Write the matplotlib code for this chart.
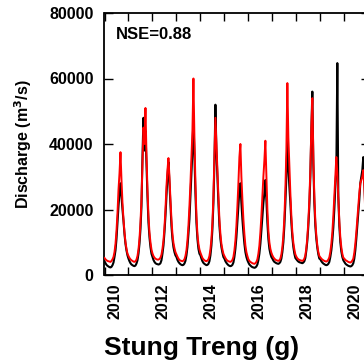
import matplotlib
matplotlib.use("Agg")
import matplotlib.pyplot as plt
import numpy as np

plt.rcParams['font.family'] = ['Liberation Sans', 'DejaVu Sans']
plt.rcParams['font.weight'] = 'bold'

# half-monthly discharge (m3/s): 1st and 16th of each month
# 2010 .. 2020, 24 values per year
observed = [
    4200, 3600, 3100, 2800, 2600, 2400, 2300, 2500, 3000, 3800, 5500, 7500,
    11000, 16000, 21000, 25000, 28000, 24000, 20000, 16500, 12500, 9500, 7500, 6000,   # 2010
    5000, 4200, 3600, 3200, 3000, 2800, 2700, 2900, 3500, 4500, 6500, 9500,
    14000, 21000, 36000, 48000, 38000, 44000, 34000, 24000, 16000, 11500, 8500, 6500,  # 2011
    5500, 4600, 4000, 3600, 3400, 3300, 3200, 3300, 3600, 4500, 6500, 9000,
    13000, 18000, 24000, 30000, 34500, 28000, 21000, 15000, 11000, 8500, 7000, 6000,   # 2012
    5500, 4600, 4000, 3600, 3300, 3100, 3000, 3100, 3500, 4300, 6000, 8500,
    12500, 17000, 24000, 31000, 38000, 48000, 36000, 25000, 16000, 11000, 8000, 6500,  # 2013
    6000, 5000, 4200, 3700, 3400, 3200, 3000, 3100, 3400, 4200, 6000, 9000,
    14000, 22000, 34000, 52000, 38000, 30000, 22000, 15000, 11000, 8500, 6800, 5500,   # 2014
    5000, 4200, 3700, 3300, 3000, 2800, 2700, 2800, 3100, 3800, 5500, 8000,
    11500, 16000, 21000, 26000, 28000, 22000, 17000, 13000, 9500, 7000, 5500, 4500,    # 2015
    3800, 3200, 2900, 2600, 2400, 2300, 2200, 2300, 2600, 3200, 4500, 6500,
    9500, 13500, 18000, 22000, 25000, 29000, 23000, 16000, 11000, 8000, 6500, 5500,    # 2016
    5000, 4400, 4000, 3800, 3600, 3500, 3400, 3600, 4000, 5000, 7000, 10000,
    15000, 22000, 30000, 41000, 33000, 27000, 22000, 16000, 11500, 8500, 6500, 5200,   # 2017
    4800, 4400, 4100, 3900, 3800, 3700, 3600, 3800, 4200, 5200, 7500, 10500,
    15000, 21000, 30000, 44000, 56000, 34000, 22000, 15000, 11000, 8200, 6300, 5000,   # 2018
    4800, 4200, 3800, 3500, 3300, 3100, 3000, 3100, 3400, 4000, 5500, 7500,
    10500, 14500, 20000, 27000, 32000, 64700, 24000, 15000, 10000, 7200, 5500, 4500,   # 2019
    4000, 3500, 3200, 3000, 2800, 2700, 2600, 2700, 3000, 3600, 5000, 7500,
    11000, 15000, 19000, 23000, 28000, 30000, 32000, 36000, 30000, 20000, 13000, 9000, # 2020
]
simulated = [
    5200, 4800, 4500, 4300, 4200, 4100, 4000, 4300, 4800, 5500, 7000, 9500,
    13500, 19000, 26000, 31000, 37500, 29000, 22000, 17000, 13000, 10000, 8000, 6500,  # 2010
    5800, 5200, 4800, 4500, 4300, 4100, 4000, 4200, 4700, 5800, 7800, 11000,
    16000, 23000, 34000, 45000, 40000, 51000, 37000, 26000, 18000, 13000, 10000, 7800, # 2011
    6600, 5800, 5300, 5000, 4800, 4700, 4700, 4900, 5300, 6200, 8000, 10500,
    14500, 20000, 27000, 32000, 35700, 30000, 23000, 17000, 12500, 9800, 8200, 7000,   # 2012
    6300, 5600, 5000, 4600, 4400, 4300, 4200, 4400, 4800, 5800, 7500, 10500,
    15000, 21000, 28000, 36000, 44000, 60000, 42000, 28000, 18000, 12500, 9500, 7800,  # 2013
    6800, 6000, 5200, 4800, 4500, 4300, 4200, 4400, 4800, 5800, 7800, 11000,
    16000, 24000, 36000, 48000, 40000, 32000, 24000, 17000, 12500, 9500, 7800, 6500,   # 2014
    5800, 5200, 4700, 4400, 4200, 4100, 4000, 4200, 4600, 5500, 7500, 10500,
    15000, 21000, 28000, 36000, 40000, 30000, 23000, 17000, 12500, 9000, 7000, 5800,   # 2015
    4800, 4300, 4000, 3800, 3600, 3500, 3400, 3600, 4000, 4800, 6500, 9000,
    13000, 18000, 24000, 30000, 35000, 41000, 30000, 20000, 13500, 10000, 8000, 6800,  # 2016
    6000, 5400, 5000, 4700, 4500, 4400, 4300, 4500, 5000, 6300, 8500, 12000,
    17500, 26000, 38000, 58600, 42000, 33000, 25000, 18000, 13000, 9800, 7800, 6300,   # 2017
    5600, 5100, 4800, 4600, 4500, 4400, 4300, 4500, 5000, 6000, 8200, 11500,
    16500, 23000, 32000, 45000, 54000, 36000, 24000, 16500, 12000, 9000, 7000, 5800,   # 2018
    5400, 5000, 4700, 4500, 4300, 4200, 4100, 4300, 4700, 5400, 7000, 9500,
    13000, 18000, 24000, 30000, 36000, 31000, 24000, 16500, 11500, 8500, 6500, 5300,   # 2019
    5000, 4600, 4400, 4200, 4000, 3900, 3800, 4000, 4400, 5000, 6800, 9500,
    13000, 17000, 21000, 25000, 28000, 29000, 30000, 32000, 27000, 19000, 13000, 9500, # 2020
]
years = list(range(2010, 2021))
year_labels = ['2010', '2012', '2014', '2016', '2018', '2020']
y_ticks = [0, 20000, 40000, 60000, 80000]
nse_text = 'NSE=0.88'
station = 'Stung Treng (g)'

# decimal-year positions of the half-month samples
t = 2010 + np.arange(len(observed)) / 24.0

fig = plt.figure(figsize=(3.64, 3.60), dpi=100)
ax = fig.add_axes([104.5 / 364, 1 - 275 / 360, 265 / 364, 262 / 360])

ax.plot(t, observed, color='black', lw=1.5, zorder=2)
ax.plot(t, simulated, color='#ff0000', lw=1.4, zorder=3)

ax.set_xlim(2010, 2021.05)
ax.set_ylim(0, 80000)

# year ticks (marks only), labels sit a bit to the right of the marks
ax.set_xticks(years)
ax.set_xticklabels([])
ax.set_xticks([int(y) + 0.44 for y in year_labels], minor=True)
ax.set_xticklabels(year_labels, minor=True, rotation=90, fontsize=11.5, fontweight='bold')
ax.tick_params(axis='x', which='minor', length=0, pad=6)
ax.tick_params(axis='x', which='major', direction='in', length=6, width=1.0, top=True)

ax.set_yticks(y_ticks)
ax.set_yticklabels([str(v) for v in y_ticks], fontsize=11.5, fontweight='bold')
ax.tick_params(axis='y', direction='in', length=6.5, width=1.0, right=True, pad=8)

for s in ax.spines.values():
    s.set_linewidth(1.3)

ax.text(0.043, 0.901, nse_text, transform=ax.transAxes, fontsize=12,
        fontweight='bold', va='baseline', ha='left')

fig.text(23 / 364, 1 - 144 / 360, 'Discharge (m$^\\mathbf{3}$/s)', rotation=90,
         ha='center', va='center', fontsize=11.5, fontweight='bold')
fig.text(202 / 364, 1 - 355 / 360, station, ha='center', va='baseline',
         fontsize=19, fontweight='bold')

fig.savefig('out.png', dpi=100)
